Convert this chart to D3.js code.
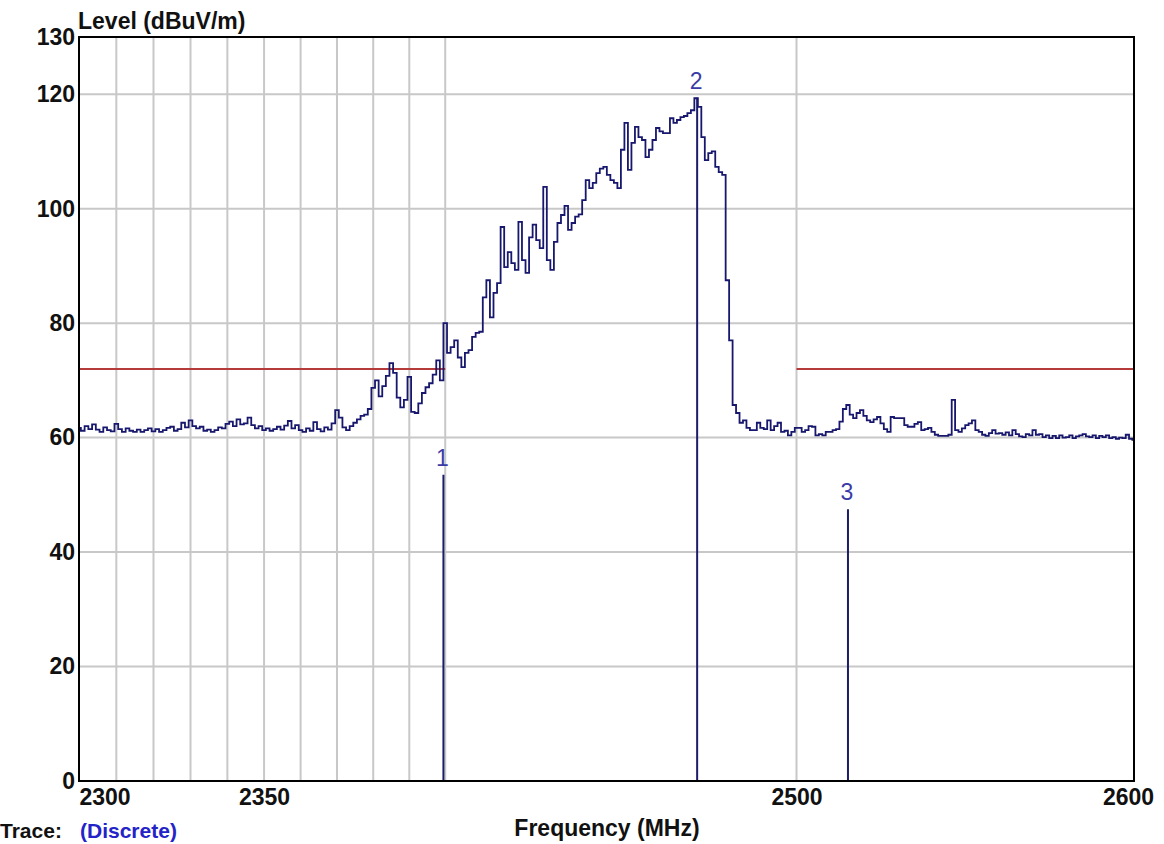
<!DOCTYPE html>
<html>
<head>
<meta charset="utf-8">
<script src="https://cdn.jsdelivr.net/npm/d3@7"></script>
<style>
  html, body { margin: 0; padding: 0; background: #ffffff; overflow: hidden; }
  svg { display: block; }
  text { font-family: "Liberation Sans", Arial, sans-serif; }
</style>
</head>
<body>
<svg id="chart" width="1164" height="844"></svg>
<script>
// ---- data ----
const freqStart = 2300;          // MHz, first sample of the trace
const freqStep = 1;              // MHz between samples
const traceLevels = [
  61.7, 61.2, 62.0, 61.5, 62.3, 61.4, 61.0, 61.8, 61.3, 61.1,
  62.4, 61.5, 61.0, 61.6, 61.2, 61.0, 61.4, 61.0, 61.3, 61.6,
  61.1, 61.5, 61.0, 61.3, 61.7, 61.9, 61.2, 61.5, 62.6, 61.8,
  63.0, 62.0, 61.6, 61.9, 61.2, 61.4, 61.0, 61.3, 61.8, 61.6,
  62.4, 62.8, 62.0, 63.2, 62.3, 62.5, 63.5, 62.2, 61.6, 62.0,
  61.3, 61.6, 61.2, 61.5, 61.9, 61.4, 62.1, 62.9, 61.6, 62.2,
  61.3, 61.0, 61.6, 61.2, 62.7, 61.5, 61.1, 61.8, 61.4, 62.5,
  64.8, 63.5, 61.8, 61.3, 62.0, 62.6, 63.2, 63.8, 64.0, 65.0,
  68.7, 70.0, 67.2, 69.0, 70.8, 73.0, 71.3, 67.0, 65.3, 66.6,
  70.6, 64.5, 64.3, 66.0, 67.8, 68.8, 69.5, 71.0, 73.5, 70.0,
  80.0, 74.8, 75.8, 77.0, 74.0, 72.3, 74.8, 75.3, 77.6, 78.3,
  78.5, 84.5, 87.5, 81.0, 85.3, 87.0, 96.8, 89.8, 92.4, 90.5,
  89.3, 97.7, 91.0, 88.8, 95.0, 97.2, 94.5, 93.1, 103.8, 91.0,
  89.3, 94.2, 97.5, 98.9, 100.5, 96.3, 97.5, 98.6, 99.0, 101.5,
  105.0, 103.6, 104.5, 106.2, 107.0, 107.3, 105.9, 105.0, 104.5, 103.6,
  110.3, 115.0, 106.8, 111.5, 114.3, 112.5, 112.0, 109.0, 110.3, 112.0,
  114.1, 113.5, 113.2, 113.2, 115.8, 115.0, 115.5, 116.0, 116.2, 116.7,
  117.2, 119.3, 117.8, 112.5, 108.5, 109.7, 110.0, 107.3, 106.4, 105.9,
  87.5, 77.0, 65.7, 64.3, 62.6, 63.0, 61.7, 61.3, 61.3, 62.6,
  61.7, 61.5, 63.0, 61.3, 62.0, 62.6, 61.0, 61.2, 60.4, 61.0,
  61.7, 61.7, 61.0, 61.3, 62.0, 61.9, 60.4, 60.6, 60.4, 61.0,
  61.0, 61.3, 61.5, 62.8, 65.0, 65.7, 64.0, 63.4, 64.3, 64.8,
  63.8, 63.0, 62.7, 63.2, 63.6, 62.5, 61.5, 61.0, 63.6, 63.4,
  63.4, 63.4, 62.2, 61.9, 61.9, 62.4, 62.7, 61.3, 61.5, 61.7,
  61.0, 60.5, 60.3, 60.3, 60.3, 60.5, 66.6, 61.3, 61.0, 61.6,
  62.2, 62.5, 63.0, 61.3, 61.0, 60.5, 60.3, 60.8, 61.3, 60.7,
  60.8, 60.5, 60.9, 60.4, 61.3, 60.6, 60.2, 60.1, 60.6, 60.4,
  61.3, 60.5, 60.6, 60.1, 60.4, 59.9, 60.3, 59.9, 60.4, 60.0,
  60.1, 60.4, 59.9, 60.2, 60.4, 60.6, 60.2, 60.1, 60.4, 59.9,
  60.3, 60.1, 60.4, 59.9, 60.1, 59.8, 60.0, 59.9, 60.5, 59.8,
  59.6
];

const limitStartFreqs = [2300, 2500];
const limitEndFreqs   = [2400, 2600];
const limitLevels     = [72, 72];

const markerLabels = ["1", "2", "3"];
const markerFreqs  = [2399.5, 2471.3, 2515];
const markerLevels = [53.5, 119.4, 47.5];

const xGridFreqs = [2310, 2320, 2330, 2340, 2350, 2360, 2370, 2380, 2390, 2400, 2500];
const xTickFreqs = [2300, 2350, 2500, 2600];
const yGridLevels = [20, 40, 60, 80, 100, 120];
const yTickLevels = [0, 20, 40, 60, 80, 100, 120, 130];

const yTitle = "Level (dBuV/m)";
const xTitle = "Frequency (MHz)";
const footerLabel = "Trace:";
const footerValue = "(Discrete)";

// ---- drawing ----
const svg = d3.select("#chart");
const pL = 79, pR = 1134, pT = 37, pB = 781;
const FS = 23;

const x = d3.scaleLog().domain([2300, 2600]).range([pL, pR]);
const y = d3.scaleLinear().domain([0, 130]).range([pB, pT]);

const trace = traceLevels.map((v, i) => ({ f: freqStart + i * freqStep, v }));

// grid
svg.append("g").selectAll("line").data(xGridFreqs).join("line")
  .attr("x1", d => x(d)).attr("x2", d => x(d))
  .attr("y1", pT).attr("y2", pB)
  .attr("stroke", "#c8c8c8").attr("stroke-width", 2);
svg.append("g").selectAll("line").data(yGridLevels).join("line")
  .attr("x1", pL).attr("x2", pR)
  .attr("y1", d => y(d)).attr("y2", d => y(d))
  .attr("stroke", "#c8c8c8").attr("stroke-width", 2);

// limit lines
svg.append("g").selectAll("line").data(limitLevels).join("line")
  .attr("x1", (d, i) => x(limitStartFreqs[i]))
  .attr("x2", (d, i) => x(limitEndFreqs[i]))
  .attr("y1", d => y(d)).attr("y2", d => y(d))
  .attr("stroke", "#b53a3a").attr("stroke-width", 2);

// markers (discrete)
const mk = svg.append("g");
mk.selectAll("line").data(markerLevels).join("line")
  .attr("x1", (d, i) => x(markerFreqs[i])).attr("x2", (d, i) => x(markerFreqs[i]))
  .attr("y1", d => y(d)).attr("y2", y(0))
  .attr("stroke", "#1c1c6a").attr("stroke-width", 2);
mk.selectAll("text").data(markerLevels).join("text")
  .attr("x", (d, i) => x(markerFreqs[i]) - 1)
  .attr("y", d => y(d) - 9)
  .attr("text-anchor", "middle")
  .attr("font-size", FS)
  .attr("fill", "#3b3ba6")
  .text((d, i) => markerLabels[i]);

// trace
const line = d3.line()
  .x(d => x(d.f)).y(d => y(d.v))
  .curve(d3.curveStep);
svg.append("path").datum(trace)
  .attr("d", line)
  .attr("fill", "none")
  .attr("stroke", "#17176e")
  .attr("stroke-width", 1.8)
  .attr("stroke-linejoin", "miter");

// frame
svg.append("rect")
  .attr("x", pL).attr("y", pT)
  .attr("width", pR - pL).attr("height", pB - pT)
  .attr("fill", "none").attr("stroke", "#000").attr("stroke-width", 2);

// y axis
const yAxis = svg.append("g")
  .attr("transform", `translate(${pL},0)`)
  .call(d3.axisLeft(y).tickValues(yTickLevels).tickSize(0).tickPadding(4).tickFormat(d3.format("d")));
yAxis.select(".domain").remove();
yAxis.selectAll("text")
  .attr("font-family", "'Liberation Sans', Arial, sans-serif")
  .attr("font-size", FS).attr("font-weight", "bold").attr("fill", "#111");

// x axis
const xAxis = svg.append("g")
  .attr("transform", `translate(0,${pB})`)
  .call(d3.axisBottom(x).tickValues(xTickFreqs).tickSize(0).tickPadding(8).tickFormat(d3.format("d")));
xAxis.select(".domain").remove();
xAxis.selectAll("text")
  .attr("font-family", "'Liberation Sans', Arial, sans-serif")
  .attr("font-size", FS).attr("font-weight", "bold").attr("fill", "#111")
  .attr("text-anchor", d => d === xTickFreqs[0] ? "start" : "middle")
  .attr("dx", d => d === xTickFreqs[xTickFreqs.length - 1] ? -6 : 0);

// titles
svg.append("text")
  .attr("x", pL - 1).attr("y", 29)
  .attr("font-size", FS).attr("font-weight", "bold").attr("fill", "#111")
  .text(yTitle);
svg.append("text")
  .attr("x", 607).attr("y", 836)
  .attr("text-anchor", "middle")
  .attr("font-size", FS).attr("font-weight", "bold").attr("fill", "#111")
  .text(xTitle);

// footer
const foot = svg.append("text").attr("x", 0).attr("y", 838)
  .attr("font-size", 21).attr("font-weight", "bold");
foot.append("tspan").attr("fill", "#111").text(footerLabel);
foot.append("tspan").attr("fill", "#2323c8").attr("x", 80).text(footerValue);
</script>
</body>
</html>
